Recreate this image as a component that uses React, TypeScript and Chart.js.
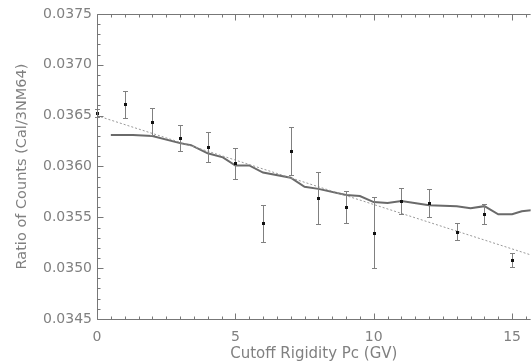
import React, { useEffect, useRef } from "react";
import { Chart, registerables } from "chart.js";

Chart.register(...registerables);

// Measured data: ratio of counts vs cutoff rigidity
const rigidity = [0, 1, 2, 3, 4, 5, 6, 7, 8, 9, 10, 11, 12, 13, 14, 15];
const ratio = [
  0.03653, 0.03661, 0.03644, 0.03628, 0.03619, 0.03603, 0.03544, 0.03615,
  0.03569, 0.0356, 0.03535, 0.03566, 0.03564, 0.03536, 0.03553, 0.03508,
];
const ratioErr = [
  0.00004, 0.00013, 0.000135, 0.000125, 0.000145, 0.00015, 0.00018, 0.000235,
  0.000255, 0.00016, 0.00035, 0.000125, 0.00014, 0.00008, 0.0001, 0.00007,
];

// Model curve (solid)
const modelX = [
  0.5, 1.3, 2, 3, 3.4, 4, 4.55, 5, 5.5, 6, 7, 7.5, 8, 9, 9.5, 10, 10.5, 11, 12,
  13, 13.5, 14, 14.5, 15, 15.35, 15.7,
];
const modelY = [
  0.03631, 0.03631, 0.0363, 0.03623, 0.03621, 0.03613, 0.03609, 0.03601,
  0.03601, 0.03594, 0.03589, 0.0358, 0.03578, 0.03572, 0.03571, 0.03565,
  0.03564, 0.03566, 0.03562, 0.03561, 0.03559, 0.03561, 0.03553, 0.03553,
  0.03556, 0.03557,
];

// Linear fit (dotted)
const fitX = [0, 16];
const fitY = [0.0365, 0.035102];

// Axes
const xMin = 0;
const xMax = 15.67;
const xMajorStep = 5;
const xMinorStep = 0.5;
const yMin = 0.0345;
const yMax = 0.0375;
const yMajorStep = 0.0005;
const yMinorStep = 0.0001;

const xTitle = "Cutoff Rigidity Pc (GV)";
const yTitle = "Ratio of Counts (Cal/3NM64)";

const AXIS = "#777777";
const TEXT = "#808080";
const FONT = "'DejaVu Sans', sans-serif";

const errorBarPlugin = {
  id: "errorBars",
  afterDatasetsDraw(chart: any) {
    const { ctx, scales } = chart;
    const x = scales.x;
    const y = scales.y;
    ctx.save();
    ctx.strokeStyle = "#808080";
    ctx.lineWidth = 1;
    ctx.beginPath();
    rigidity.forEach((r, i) => {
      const px = Math.round(x.getPixelForValue(r)) + 0.5;
      const y1 = Math.round(y.getPixelForValue(ratio[i] + ratioErr[i])) + 0.5;
      const y2 = Math.round(y.getPixelForValue(ratio[i] - ratioErr[i])) + 0.5;
      ctx.moveTo(px, y1);
      ctx.lineTo(px, y2);
      ctx.moveTo(px - 2.5, y1);
      ctx.lineTo(px + 2.5, y1);
      ctx.moveTo(px - 2.5, y2);
      ctx.lineTo(px + 2.5, y2);
    });
    ctx.stroke();
    ctx.fillStyle = "#111";
    rigidity.forEach((r, i) => {
      const px = x.getPixelForValue(r);
      const py = y.getPixelForValue(ratio[i]);
      ctx.fillRect(Math.round(px) - 1, Math.round(py) - 1, 3, 3);
    });
    ctx.restore();
  },
};

const frameTicksPlugin = {
  id: "frameTicks",
  afterDraw(chart: any) {
    const { ctx, chartArea, scales } = chart;
    const { left, right, top, bottom } = chartArea;
    const x = scales.x;
    const y = scales.y;
    ctx.save();
    ctx.strokeStyle = AXIS;
    ctx.lineWidth = 1;
    ctx.beginPath();
    const t = Math.round(top) + 0.5;
    const b = Math.round(bottom) + 0.5;
    const l = Math.round(left) + 0.5;
    ctx.moveTo(l, t);
    ctx.lineTo(right, t);
    ctx.moveTo(l, b);
    ctx.lineTo(right, b);
    ctx.moveTo(l, t);
    ctx.lineTo(l, b);
    const nx = Math.floor((xMax - xMin) / xMinorStep + 1e-6);
    const perMajorX = Math.round(xMajorStep / xMinorStep);
    for (let i = 0; i <= nx; i++) {
      const v = xMin + i * xMinorStep;
      const px = Math.round(x.getPixelForValue(v)) + 0.5;
      const len = i % perMajorX === 0 ? 6 : 3;
      ctx.moveTo(px, b);
      ctx.lineTo(px, b - len);
      ctx.moveTo(px, t);
      ctx.lineTo(px, t + len);
    }
    const ny = Math.round((yMax - yMin) / yMinorStep);
    const perMajorY = Math.round(yMajorStep / yMinorStep);
    for (let i = 0; i <= ny; i++) {
      const v = yMin + i * yMinorStep;
      const py = Math.round(y.getPixelForValue(v)) + 0.5;
      const len = i % perMajorY === 0 ? 6 : 3;
      ctx.moveTo(l, py);
      ctx.lineTo(l + len, py);
    }
    ctx.stroke();
    ctx.restore();
  },
};

export default function App() {
  const ref = useRef<HTMLCanvasElement | null>(null);

  useEffect(() => {
    if (!ref.current) return;
    const chart = new Chart(ref.current, {
      type: "scatter",
      data: {
        datasets: [
          {
            type: "line",
            label: "fit",
            data: fitX.map((v, i) => ({ x: v, y: fitY[i] })),
            borderColor: "#999999",
            borderWidth: 1,
            borderDash: [2, 2],
            pointRadius: 0,
            fill: false,
          },
          {
            type: "line",
            label: "model",
            data: modelX.map((v, i) => ({ x: v, y: modelY[i] })),
            borderColor: "#6a6a6a",
            borderWidth: 2,
            pointRadius: 0,
            fill: false,
            tension: 0,
          },
        ],
      },
      options: {
        animation: false,
        responsive: false,
        maintainAspectRatio: false,
        layout: { padding: { top: 14, right: 0, bottom: 0, left: 0 } },
        plugins: {
          legend: { display: false },
          tooltip: { enabled: false },
        },
        scales: {
          x: {
            type: "linear",
            min: xMin,
            max: xMax,
            grid: { display: false, drawTicks: false },
            border: { display: false },
            ticks: {
              stepSize: xMajorStep,
              includeBounds: false,
              padding: 10,
              color: TEXT,
              font: { family: FONT, size: 14 },
              callback: (v: any) => (Number(v) % 5 === 0 ? String(v) : ""),
              maxRotation: 0,
            },
            title: {
              display: true,
              text: xTitle,
              color: TEXT,
              font: { family: FONT, size: 15 },
              padding: { top: 0, bottom: 0 },
            },
            afterFit: (s: any) => {
              s.height = 44;
            },
          },
          y: {
            type: "linear",
            min: yMin,
            max: yMax,
            grid: { display: false, drawTicks: false },
            border: { display: false },
            ticks: {
              stepSize: yMajorStep,
              padding: 5,
              color: TEXT,
              font: { family: FONT, size: 14 },
              callback: (v: any) => Number(v).toFixed(4),
            },
            title: {
              display: true,
              text: yTitle,
              color: TEXT,
              font: { family: FONT, size: 14.5 },
              padding: { top: 14, bottom: 0 },
            },
            afterFit: (s: any) => {
              s.width = 97;
            },
          },
        },
      },
      plugins: [errorBarPlugin, frameTicksPlugin],
    });
    return () => chart.destroy();
  }, []);

  return (
    <div style={{ position: "fixed", left: 0, top: 0, width: 531, height: 363, background: "#fff" }}>
      <canvas ref={ref} width={531} height={363} style={{ display: "block" }} />
    </div>
  );
}
